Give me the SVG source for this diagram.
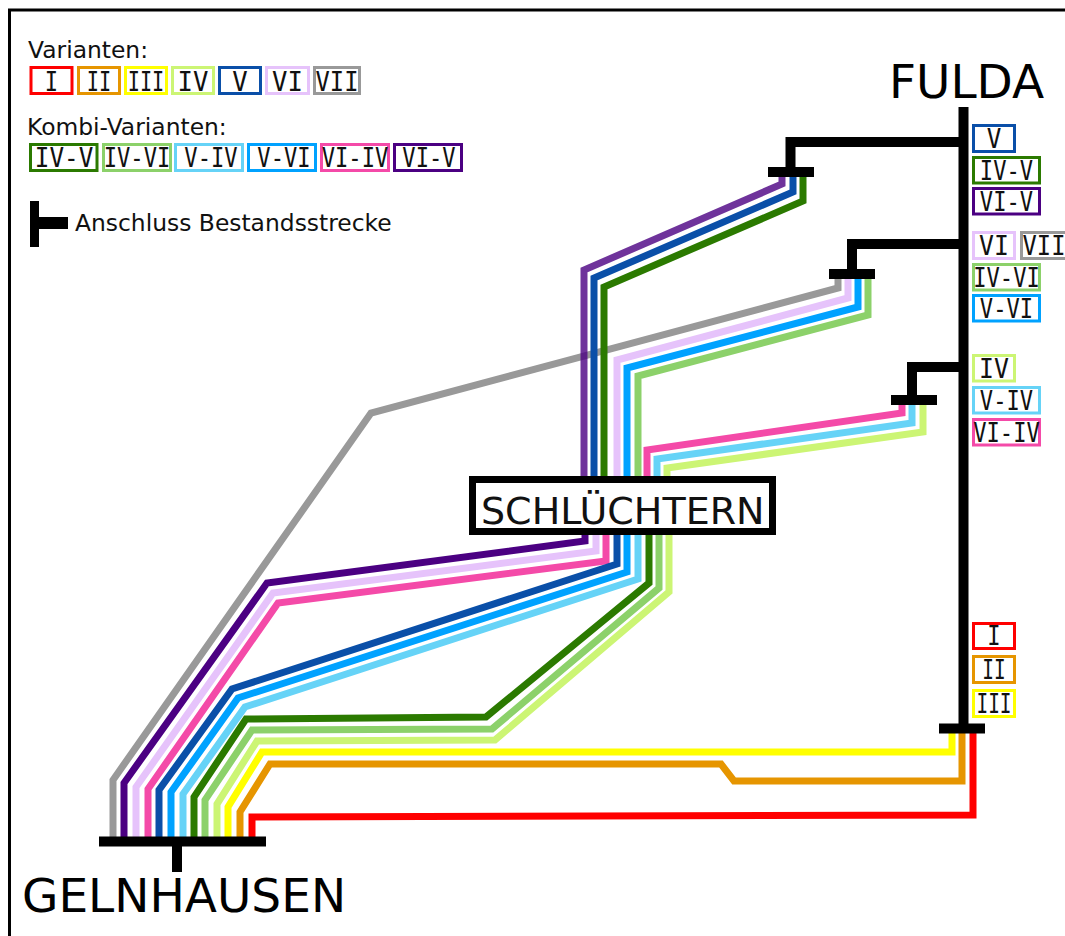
<svg xmlns="http://www.w3.org/2000/svg" width="1065" height="936" viewBox="0 0 1065 936">
<style>
.l{fill:none;stroke-width:7;stroke-linejoin:miter;stroke-linecap:butt}
.k{fill:none;stroke:#000;stroke-width:10}
.b{fill:#fff;stroke-width:3}
.m{font-family:"DejaVu Sans Mono",monospace;font-size:27px;fill:#111;text-anchor:middle}
.s{font-family:"DejaVu Sans",sans-serif;fill:#111}
.t{font-size:23.4px}
.h{font-size:47px;fill:#000}
.c1{stroke:#ff0000}.c2{stroke:#e69500}.c3{stroke:#ffff00}.c4{stroke:#ccf574}.c5{stroke:#0a4fa8}.c6{stroke:#e6c3fb}.c7{stroke:#999999}
.c45{stroke:#2b7a00}.c46{stroke:#8cd16a}.c54{stroke:#66d3f7}.c56{stroke:#00a2ff}.c64{stroke:#f44aa8}.c65{stroke:#4b0082}
</style>
<rect x="9.500" y="10" width="1070" height="940" fill="#fff" stroke="#000" stroke-width="3"/>
<g id="connectors">
<path class="l c7" d="M113 838V780L371 413L838 288V275"/>
<path class="l c65" opacity=".8" d="M584 480V270L782 184V175"/>
<path class="l c5" d="M594 480V278L793 192V175"/>
<path class="l c45" d="M604 480V287L803 201V175"/>
<path class="l c6" d="M617 480V360L848 298V275"/>
<path class="l c56" d="M627 480V368L858 307V275"/>
<path class="l c46" d="M638 480V376L868 315V275"/>
<path class="l c64" d="M647 480V450L902 413V402"/>
<path class="l c54" d="M657 480V459L912 423V402"/>
<path class="l c4" d="M667 480V468L923 432V402"/>
<path class="l c65" d="M585 530V541L267 583L124 783V838"/>
<path class="l c6" d="M596 530V551L273 593L136 787V838"/>
<path class="l c64" d="M606 530V561L278 603L148 789V838"/>
<path class="l c5" d="M617 530V564L232 689L159 790V838"/>
<path class="l c56" d="M627 530V572L238 698L171 792V838"/>
<path class="l c54" d="M638 530V579L245 707L183 794V838"/>
<path class="l c45" d="M649 530V583L486 717L246 719L194 797V838"/>
<path class="l c46" d="M659 530V588L492 729L252 730L205 800V838"/>
<path class="l c4" d="M669 530V592L495 740L257 741L217 804V838"/>
<path class="l c3" d="M952 730V752H262L228 807V838"/>
<path class="l c2" d="M962 730V781H734L721 764H270L240 812V838"/>
<path class="l c1" d="M973 730V815L252 817V838"/>
</g>
<g id="fulda">
<path class="k" d="M963.500 107V728"/>
<path class="k" d="M963.500 142H790.500V172"/>
<path class="k" d="M963.500 244H852V274"/>
<path class="k" d="M963.500 367H912V400"/>
<path class="k" d="M768 172H814M829 274H875M891 400H937M939 728.500H985"/>
<text class="s h" x="889" y="98">FULDA</text>
</g>
<g id="gelnhausen">
<path class="k" d="M99 841.500H266M177 842V872"/>
<text class="s h" x="22" y="912">GELNHAUSEN</text>
</g>
<g id="schluechtern">
<rect x="472.500" y="479.500" width="300" height="52" fill="#fff" stroke="#000" stroke-width="7"/>
<text class="s" x="481" y="524" font-size="38">SCHLÜCHTERN</text>
</g>
<g id="legend">
<text class="s t" x="28" y="58">Varianten:</text>
<text class="s t" x="27" y="135">Kombi-Varianten:</text>
<text class="s t" x="75" y="231">Anschluss Bestandsstrecke</text>
<path fill="#000" d="M30 201H39V217H68V229H39V247H30Z"/>
</g>
<g id="legend-varianten">
<g id="lv-1"><rect class="b c1" x="31" y="67.500" width="41" height="26"/><text class="m" transform="translate(51.500 91) scale(.82 1)">I</text></g>
<g id="lv-2"><rect class="b c2" x="78.500" y="67.500" width="41" height="26"/><text class="m" transform="translate(99 91) scale(.75 1)">II</text></g>
<g id="lv-3"><rect class="b c3" x="125.500" y="67.500" width="41" height="26"/><text class="m" transform="translate(146 91) scale(.75 1)">III</text></g>
<g id="lv-4"><rect class="b c4" x="172.500" y="67.500" width="41" height="26"/><text class="m" transform="translate(193 91) scale(.95 1)">IV</text></g>
<g id="lv-5"><rect class="b c5" x="219.500" y="67.500" width="41" height="26"/><text class="m" transform="translate(240 91) scale(.95 1)">V</text></g>
<g id="lv-6"><rect class="b c6" x="266.500" y="67.500" width="42" height="26"/><text class="m" transform="translate(287.500 91) scale(.95 1)">VI</text></g>
<g id="lv-7"><rect class="b c7" x="314.500" y="67.500" width="45" height="26"/><text class="m" transform="translate(337 91) scale(.88 1)">VII</text></g>
</g>
<g id="legend-kombi">
<g id="lk-45"><rect class="b c45" x="30.500" y="144.500" width="66.500" height="26"/><text class="m" transform="translate(64 167) scale(.9 1)">IV-V</text></g>
<g id="lk-46"><rect class="b c46" x="103.500" y="144.500" width="67" height="26"/><text class="m" transform="translate(137 167) scale(.82 1)">IV-VI</text></g>
<g id="lk-54"><rect class="b c54" x="175.500" y="144.500" width="67" height="26"/><text class="m" transform="translate(211 167) scale(.82 1)">V-IV</text></g>
<g id="lk-56"><rect class="b c56" x="248.500" y="144.500" width="67" height="26"/><text class="m" transform="translate(284 167) scale(.82 1)">V-VI</text></g>
<g id="lk-64"><rect class="b c64" x="321.500" y="144.500" width="67" height="26"/><text class="m" transform="translate(355 167) scale(.82 1)">VI-IV</text></g>
<g id="lk-65"><rect class="b c65" x="394.500" y="144.500" width="67" height="26"/><text class="m" transform="translate(429 167) scale(.82 1)">VI-V</text></g>
</g>
<g id="labels-right">
<g id="r-5"><rect class="b c5" x="973.500" y="125.500" width="41" height="26"/><text class="m" transform="translate(994 148) scale(.9 1)">V</text></g>
<g id="r-45"><rect class="b c45" x="973.500" y="157.500" width="66" height="25.500"/><text class="m" transform="translate(1006.500 180) scale(.82 1)">IV-V</text></g>
<g id="r-65"><rect class="b c65" x="973.500" y="188.500" width="66" height="25.500"/><text class="m" transform="translate(1006.500 211) scale(.82 1)">VI-V</text></g>
<g id="r-6"><rect class="b c6" x="973.500" y="232.500" width="41" height="26"/><text class="m" transform="translate(994 255) scale(.92 1)">VI</text></g>
<g id="r-7"><rect class="b c7" x="1021.500" y="232.500" width="46" height="26"/><text class="m" transform="translate(1044 255) scale(.88 1)">VII</text></g>
<g id="r-46"><rect class="b c46" x="973.500" y="264.500" width="66" height="25.500"/><text class="m" transform="translate(1006.500 287) scale(.82 1)">IV-VI</text></g>
<g id="r-56"><rect class="b c56" x="973.500" y="295.500" width="66" height="25.500"/><text class="m" transform="translate(1006.500 318) scale(.82 1)">V-VI</text></g>
<g id="r-4"><rect class="b c4" x="973.500" y="355.500" width="41" height="25.500"/><text class="m" transform="translate(994 378) scale(.92 1)">IV</text></g>
<g id="r-54"><rect class="b c54" x="973.500" y="387.500" width="66" height="25.500"/><text class="m" transform="translate(1006.500 410) scale(.82 1)">V-IV</text></g>
<g id="r-64"><rect class="b c64" x="973.500" y="419.500" width="66" height="25.500"/><text class="m" transform="translate(1006.500 442) scale(.82 1)">VI-IV</text></g>
<g id="r-1"><rect class="b c1" x="973.500" y="623.500" width="41" height="25"/><text class="m" transform="translate(994 645) scale(.82 1)">I</text></g>
<g id="r-2"><rect class="b c2" x="973.500" y="656.500" width="41" height="26"/><text class="m" transform="translate(994 679) scale(.72 1)">II</text></g>
<g id="r-3"><rect class="b c3" x="973.500" y="690.500" width="41" height="26"/><text class="m" transform="translate(994 713) scale(.72 1)">III</text></g>
</g>
</svg>
